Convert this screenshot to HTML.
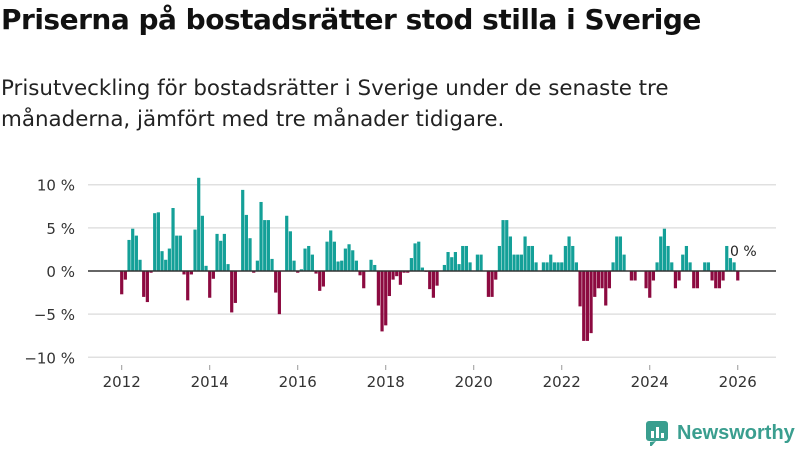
<!DOCTYPE html>
<html><head><meta charset="utf-8"><style>
body{margin:0;width:800px;height:450px;background:#fff;font-family:"DejaVu Sans","Liberation Sans",sans-serif;overflow:hidden;position:relative}
#title{position:absolute;left:1px;top:3px;font-size:28px;font-weight:bold;color:#111;letter-spacing:-0.5px}
#sub{position:absolute;left:1px;top:73px;font-size:21.4px;line-height:31px;color:#222;width:790px}
svg{position:absolute;left:0;top:0}
</style></head><body>
<div id="title">Priserna på bostadsrätter stod stilla i Sverige</div>
<div id="sub">Prisutveckling för bostadsrätter i Sverige under de senaste tre<br>månaderna, jämfört med tre månader tidigare.</div>
<svg id="chart" width="800" height="450"></svg>
<script>
const values=[-2.7,-1.0,3.6,4.9,4.1,1.3,-3.0,-3.6,-0.2,6.7,6.8,2.3,1.3,2.6,7.3,4.1,4.1,-0.4,-3.4,-0.4,4.8,10.8,6.4,0.6,-3.1,-0.9,4.3,3.5,4.3,0.8,-4.8,-3.7,0,9.4,6.5,3.8,-0.2,1.2,8.0,5.9,5.9,1.4,-2.5,-5.0,0,6.4,4.6,1.2,-0.2,0.2,2.6,2.9,1.9,-0.3,-2.3,-1.8,3.4,4.7,3.4,1.1,1.2,2.6,3.1,2.4,1.2,-0.5,-2.0,0,1.3,0.7,-4.0,-7.0,-6.3,-2.9,-1.0,-0.6,-1.6,-0.2,-0.2,1.5,3.2,3.4,0.4,-0.1,-2.1,-3.1,-1.7,0,0.7,2.2,1.6,2.2,0.8,2.9,2.9,1.0,0,1.9,1.9,0,-3.0,-3.0,-1.0,2.9,5.9,5.9,4.0,1.9,1.9,1.9,4.0,2.9,2.9,1.0,0,1.0,1.0,1.9,1.0,1.0,1.0,2.9,4.0,2.9,1.0,-4.1,-8.1,-8.1,-7.2,-3.0,-2.0,-2.0,-4.0,-2.0,1.0,4.0,4.0,1.9,0,-1.1,-1.1,0,0,-2.0,-3.1,-1.1,1.0,4.0,4.9,2.9,1.0,-2.0,-1.1,1.9,2.9,1.0,-2.0,-2.0,0,1.0,1.0,-1.1,-2.0,-2.0,-1.1,2.9,1.5,1.0,-1.1];
const startYear=2012;
const yTicks=[-10,-5,0,5,10];
const yTickLabels=["−10 %","−5 %","0 %","5 %","10 %"];
const xTicks=[2012,2014,2016,2018,2020,2022,2024,2026];
const NS="http://www.w3.org/2000/svg";
const svg=document.getElementById('chart');
const x0=121.7, perMonth=3.667;
function xScale(monthIndex){return x0+perMonth*monthIndex;}
function yScale(v){return 271-v*8.63;}
function mk(tag,attrs){const e=document.createElementNS(NS,tag);for(const k in attrs)e.setAttribute(k,attrs[k]);svg.appendChild(e);return e;}
yTicks.forEach((t,i)=>{
  if(t!==0){const g=mk('line',{x1:88,x2:776,y1:yScale(t),y2:yScale(t),stroke:'#e0e0e0','stroke-width':1.5});
  
  }
  const tx=mk('text',{x:75,y:yScale(t)+6,'text-anchor':'end','font-size':15,fill:'#333'});
  tx.textContent=yTickLabels[i];
  
  
});
values.forEach((v,i)=>{
  if(v===0)return;
  const y=yScale(Math.max(v,0)),h=Math.abs(yScale(v)-yScale(0));
  const r=mk('rect',{x:xScale(i)-1.6,y:y,width:3.2,height:h,fill:v>0?'#14a098':'#8c0a40'});
  
  
});
const zl=mk('line',{x1:88,x2:776,y1:yScale(0),y2:yScale(0),stroke:'#333','stroke-width':1.5});


xTicks.forEach(yr=>{
  const xx=xScale((yr-startYear)*12);
  const tk=mk('line',{x1:xx,x2:xx,y1:365,y2:370,stroke:'#999'});
  
  
  const tx=mk('text',{x:xx,y:387,'text-anchor':'middle','font-size':15,fill:'#333'});
  tx.textContent=yr;
  
  
});
const lbl=mk('text',{x:730,y:256,'font-size':14,fill:'#222',stroke:'#fff','stroke-width':3,'paint-order':'stroke'});
lbl.textContent='0 %';


</script>
<div style="position:absolute;left:645px;top:420px;height:26px;display:flex;align-items:center">
<svg width="26" height="26" style="position:static"><rect x="1" y="1" width="22" height="20" rx="3" fill="#3a9e8f"/><path d="M5 22 L5 28 L11 21Z" fill="#3a9e8f"/><rect x="6" y="11" width="3" height="7" fill="#fff"/><rect x="11" y="7" width="3" height="11" fill="#fff"/><rect x="16" y="13" width="3" height="5" fill="#fff"/></svg>
<span style="font-family:'Liberation Sans',sans-serif;font-size:20px;font-weight:bold;color:#3a9e8f;margin-left:6px">Newsworthy</span></div>
</body></html>
